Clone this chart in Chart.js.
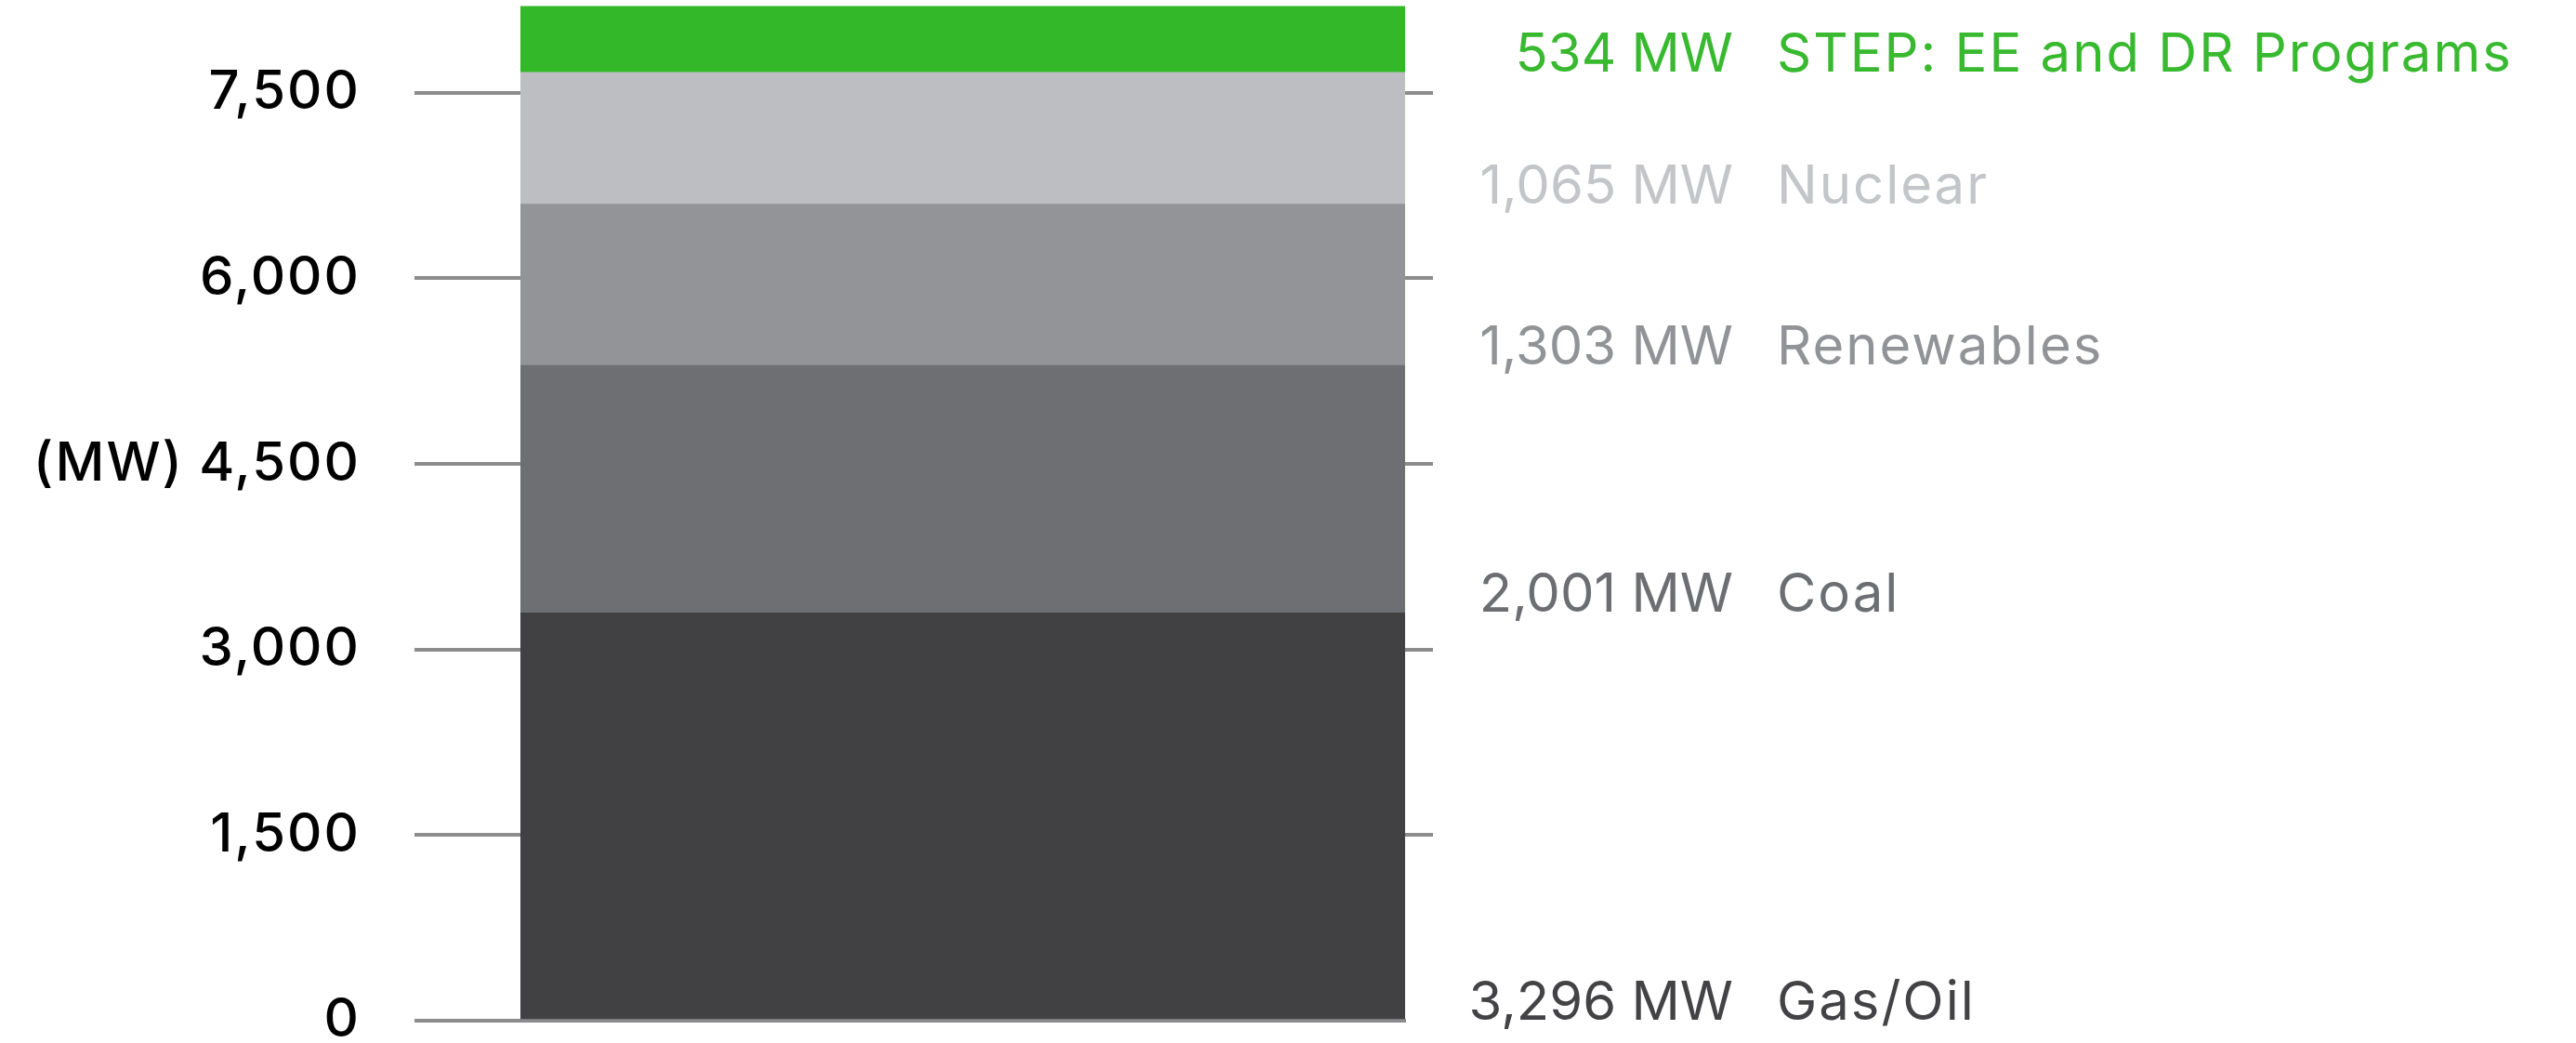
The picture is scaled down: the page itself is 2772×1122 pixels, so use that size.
<!DOCTYPE html>
<html>
<head>
<meta charset="utf-8">
<script src="https://cdn.jsdelivr.net/npm/chart.js@4.4.1/dist/chart.umd.min.js"></script>
<style>
    html, body { margin: 0; padding: 0; background: #ffffff; }
    #wrap { position: relative; width: 2772px; height: 1122px; }
</style>
</head>
<body>
<div id="wrap"><canvas id="myChart"></canvas></div>
<script>
// data, bottom segment first
const CATEGORIES = [''];
const SERIES_NAMES = ['Gas/Oil', 'Coal', 'Renewables', 'Nuclear', 'STEP: EE and DR Programs'];
const SERIES_VALUES = [3296, 2001, 1303, 1065, 534];
const Y_TICKS = [0, 1500, 3000, 4500, 6000, 7500];
const Y_UNIT = '(MW)';

const BAR_COLORS = ['#414043', '#6e6f73', '#939498', '#bdbec1', '#33b829'];
const TEXT_COLORS = ['#434346', '#6d6e72', '#929397', '#c4c5c8', '#38b92f'];
const TICK_COLOR = '#8c8c8c';
const FONT = 'Inter, "Open Sans", sans-serif';

function fmt(v) {
    return v.toLocaleString('en-US');
}

// wider letter spacing, the original font is a wide geometric one
const spacing = {
    id: 'spacing',
    beforeDraw(chart) {
        chart.ctx.letterSpacing = '2px';
    }
};

// labels on the right of the bar, baseline sits on the bottom edge of each segment
const sideLabels = {
    id: 'sideLabels',
    afterDraw(chart) {
        let ctx = chart.ctx;
        let y = chart.scales.y;
        let area = chart.chartArea;
        ctx.save();
        ctx.font = '400 58px ' + FONT;
        ctx.textBaseline = 'alphabetic';
        let start = 0;
        for (let i = 0; i < SERIES_VALUES.length; i++) {
            let py = y.getPixelForValue(start) - 1;
            ctx.fillStyle = TEXT_COLORS[i];
            ctx.letterSpacing = '0px';
            ctx.textAlign = 'right';
            ctx.fillText(fmt(SERIES_VALUES[i]) + ' MW', area.right + 353, py);
            ctx.letterSpacing = '2px';
            ctx.textAlign = 'left';
            ctx.fillText(SERIES_NAMES[i], area.right + 400, py);
            start += SERIES_VALUES[i];
        }
        // unit label next to the 4,500 tick
        ctx.font = '500 58px ' + FONT;
        ctx.fillStyle = '#000000';
        ctx.textAlign = 'right';
        ctx.textBaseline = 'middle';
        ctx.fillText(Y_UNIT, y.left + 198, y.getPixelForValue(4500));
        ctx.restore();
    }
};

function setTicks(scale) {
    scale.ticks = Y_TICKS.map(v => ({ value: v }));
}

let ctx = document.getElementById('myChart').getContext('2d');
let my_chart = new Chart(ctx, {
    type: 'bar',
    data: {
        labels: CATEGORIES,
        datasets: SERIES_NAMES.map((name, i) => ({
            label: name,
            data: [SERIES_VALUES[i]],
            backgroundColor: BAR_COLORS[i],
            borderWidth: 0,
            categoryPercentage: 1,
            barPercentage: 1
        }))
    },
    options: {
        responsive: true,
        maintainAspectRatio: false,
        animation: false,
        layout: { padding: 0 },
        plugins: {
            legend: { display: false },
            tooltip: { enabled: false }
        },
        scales: {
            x: {
                stacked: true,
                grid: { display: false },
                ticks: { display: false },
                border: { display: true, color: TICK_COLOR, width: 4 },
                afterFit(s) {
                    s.height = 24;
                    s.paddingLeft = 0;
                    s.paddingRight = 0;
                }
            },
            y: {
                stacked: true,
                position: 'left',
                min: 0,
                max: 8250,
                afterBuildTicks: setTicks,
                border: { display: false },
                grid: {
                    drawOnChartArea: false,
                    drawTicks: true,
                    tickLength: 114,
                    lineWidth: 4,
                    color: TICK_COLOR
                },
                ticks: {
                    padding: 58,
                    color: '#000000',
                    font: { family: FONT, size: 58, weight: '500' },
                    callback: (v) => fmt(v)
                },
                afterFit(s) {
                    s.width = 560;
                    s.paddingTop = 0;
                    s.paddingBottom = 0;
                }
            },
            y2: {
                position: 'right',
                min: 0,
                max: 8250,
                afterBuildTicks: setTicks,
                border: { display: false },
                grid: {
                    drawOnChartArea: false,
                    drawTicks: true,
                    tickLength: 30,
                    lineWidth: 4,
                    color: (c) => (c.tick && c.tick.value === 0) ? 'rgba(0,0,0,0)' : TICK_COLOR
                },
                ticks: { display: false },
                afterFit(s) {
                    s.width = 1260;
                    s.paddingTop = 0;
                    s.paddingBottom = 0;
                }
            }
        }
    },
    plugins: [spacing, sideLabels]
});
</script>
</body>
</html>
